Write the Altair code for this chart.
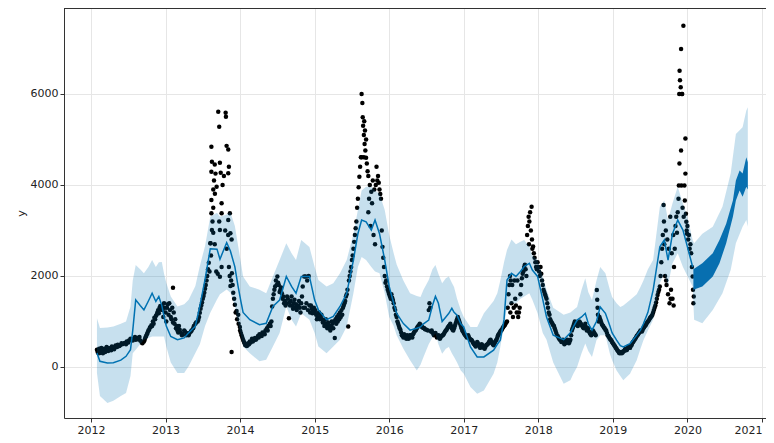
import altair as alt
import pandas as pd

# ---------------- data ----------------
# observed points (decimal year, value)
obs_2012 = [(2012.08,380),(2012.09,330),(2012.10,300),(2012.11,400),(2012.12,310),(2012.13,360),(2012.14,420),(2012.15,340),
    (2012.16,300),(2012.18,400),(2012.19,330),(2012.20,360),(2012.21,440),(2012.22,420),(2012.23,350),(2012.24,380),
    (2012.26,420),(2012.27,370),(2012.28,450),(2012.30,430),(2012.31,390),(2012.33,470),(2012.35,440),(2012.36,490),
    (2012.38,460),(2012.39,480),(2012.41,520),(2012.42,500),(2012.45,530),(2012.47,500),(2012.48,560),(2012.50,540),
    (2012.51,580),(2012.53,620),(2012.54,600),(2012.56,580),(2012.57,620),(2012.59,660),(2012.60,600),(2012.62,640),
    (2012.63,610),(2012.65,660),(2012.66,580),(2012.68,540),(2012.69,520),(2012.71,560),(2012.72,600),(2012.73,650),
    (2012.74,680),(2012.75,720),(2012.76,760),(2012.77,800),(2012.78,820),(2012.79,870),(2012.80,880),(2012.81,920),
    (2012.82,900),(2012.83,1000),(2012.84,950),(2012.85,1080),(2012.86,1050),(2012.87,1120),(2012.88,1150),(2012.89,1200),
    (2012.90,1250),(2012.91,1180),(2012.92,1300),(2012.93,1340),(2012.94,1260),(2012.95,1340),(2012.96,1250),(2012.97,1100),
    (2012.98,1400),(2012.99,1300)]
obs_2013 = [(2013.00,1200),(2013.01,1000),(2013.02,1300),(2013.03,1380),(2013.04,1150),(2013.05,1400),(2013.06,1250),
    (2013.07,1100),(2013.08,1050),(2013.09,1300),(2013.10,1740),(2013.10,980),(2013.11,1200),(2013.12,950),(2013.13,1050),
    (2013.14,850),(2013.15,900),(2013.16,800),(2013.17,760),(2013.18,900),(2013.19,820),(2013.20,760),(2013.22,700),
    (2013.23,720),(2013.25,800),(2013.26,780),(2013.28,700),(2013.29,740),(2013.31,700),(2013.32,740),(2013.34,780),
    (2013.35,800),(2013.37,850),(2013.38,900),(2013.40,950),(2013.41,980),(2013.43,1000),(2013.44,1040),(2013.45,1100),
    (2013.46,1190),(2013.47,1280),(2013.48,1350),(2013.49,1420),(2013.50,1500),(2013.51,1560),(2013.52,1630),(2013.53,1720),
    (2013.54,1800),(2013.55,1900),(2013.56,2000),(2013.57,2150),(2013.58,2290),(2013.59,2100),(2013.60,2720),(2013.61,2450),
    (2013.604,2720),(2013.622,3010),(2013.615,3380),(2013.615,3670),(2013.615,4290),(2013.622,4510),(2013.615,4840),
    (2013.63,3200),(2013.64,3500),(2013.64,3900),(2013.65,4100),(2013.662,3810),(2013.66,4450),(2013.685,3960),
    (2013.67,4250),(2013.64,2950),(2013.66,2700),(2013.68,2100),(2013.707,5610),(2013.72,5280),(2013.729,4490),
    (2013.74,4270),(2013.765,4000),(2013.783,4200),(2013.752,3600),(2013.752,3380),(2013.729,1985),(2013.752,2200),
    (2013.729,3010),(2013.70,2050),(2013.72,3200),(2013.806,5590),(2013.81,5500),(2013.819,4860),(2013.841,4780),
    (2013.85,4400),(2013.841,4260),(2013.863,3380),(2013.841,3230),(2013.87,2940),(2013.886,2800),(2013.85,2200),
    (2013.87,1780),(2013.89,2060),(2013.908,1630),(2013.886,330),(2013.80,3000),(2013.82,2600),(2013.84,2900),
    (2013.86,2000),(2013.88,1900),(2013.90,1800),(2013.92,1500),(2013.93,1370),(2013.94,1200),(2013.953,1230),
    (2013.96,1050),(2013.975,1150),(2013.98,950),(2013.997,880)]
obs_2014 = [(2014.00,800),(2014.01,750),(2014.02,700),(2014.03,650),(2014.04,600),(2014.05,560),(2014.06,520),(2014.07,480),
    (2014.08,500),(2014.09,460),(2014.10,480),(2014.11,520),(2014.12,500),(2014.13,560),(2014.14,540),(2014.16,620),
    (2014.17,560),(2014.18,580),(2014.20,640),(2014.21,600),(2014.22,620),(2014.24,680),(2014.25,650),(2014.26,720),
    (2014.28,700),(2014.29,680),(2014.30,760),(2014.32,740),(2014.33,720),(2014.34,800),(2014.36,850),(2014.37,800),
    (2014.38,900),(2014.40,950),(2014.41,900),(2014.42,1000),(2014.43,1330),(2014.44,1500),(2014.45,1600),(2014.46,1700),
    (2014.47,1770),(2014.48,1900),(2014.49,1800),(2014.50,1990),(2014.51,1850),(2014.52,1800),(2014.53,1650),(2014.54,1700),
    (2014.55,1750),(2014.56,1620),(2014.57,1500),(2014.58,1550),(2014.59,1400),(2014.60,1450),(2014.61,1350),(2014.62,1400),
    (2014.63,1550),(2014.64,1500),(2014.655,1070),(2014.66,1420),(2014.67,1350),(2014.68,1450),(2014.69,1550),(2014.70,1350),
    (2014.71,1280),(2014.72,1400),(2014.73,1480),(2014.74,1300),(2014.75,1380),(2014.76,1250),(2014.77,1320),(2014.78,1350),
    (2014.79,1450),(2014.80,1300),(2014.81,1200),(2014.82,1400),(2014.83,1550),(2014.84,1770),(2014.85,1300),(2014.86,1990),
    (2014.87,1300),(2014.88,1990),(2014.89,1400),(2014.90,1900),(2014.91,1250),(2014.92,2000),(2014.93,1350),(2014.94,1200),
    (2014.95,1350),(2014.96,1280),(2014.97,1180),(2014.98,1250),(2014.99,1300)]
obs_2015 = [(2015.00,1200),(2015.01,1250),(2015.02,1150),(2015.03,1050),(2015.04,1100),(2015.05,1180),(2015.06,1200),
    (2015.07,1050),(2015.08,1100),(2015.09,1150),(2015.10,1050),(2015.11,980),(2015.12,1000),(2015.13,900),(2015.14,950),
    (2015.15,1050),(2015.16,900),(2015.17,850),(2015.18,980),(2015.19,920),(2015.20,850),(2015.21,800),(2015.22,900),
    (2015.23,1000),(2015.24,950),(2015.25,850),(2015.26,1000),(2015.27,635),(2015.28,1050),(2015.29,950),(2015.30,1100),
    (2015.31,1000),(2015.32,1150),(2015.33,1050),(2015.34,1200),(2015.35,1100),(2015.36,1250),(2015.37,1150),(2015.38,1300),
    (2015.39,1350),(2015.40,1400),(2015.41,1450),(2015.42,1550),(2015.43,1600),(2015.44,1700),(2015.45,890),(2015.46,1900),
    (2015.47,2000),(2015.48,2100),(2015.49,2200),(2015.50,2350),(2015.51,2450),(2015.52,2600),(2015.53,2750),(2015.54,2900),
    (2015.55,3050),(2015.56,3200),(2015.57,3500),(2015.58,3700),(2015.59,3950),(2015.60,4180),(2015.61,4400),(2015.62,4610),
    (2015.63,6000),(2015.64,5800),(2015.645,5490),(2015.65,5300),(2015.66,5100),(2015.665,5400),(2015.67,4900),(2015.68,4760),
    (2015.63,4610),(2015.66,4610),(2015.675,5200),(2015.69,5000),(2015.69,4600),(2015.70,4470),(2015.71,4300),(2015.72,4200),
    (2015.73,3700),(2015.74,4000),(2015.75,3100),(2015.76,3850),(2015.77,3600),(2015.78,4100),(2015.79,2900),(2015.80,3900),
    (2015.81,2700),(2015.72,3400),(2015.82,4000),(2015.83,4400),(2015.84,4100),(2015.85,4200),(2015.86,4050),(2015.87,3900),
    (2015.88,3800),(2015.89,3700),(2015.90,3000),(2015.91,2640),(2015.92,2400),(2015.93,2200),(2015.94,2000),(2015.95,1850),
    (2015.96,1900),(2015.97,1770),(2015.98,1700),(2015.99,1650)]
obs_2016 = [(2016.00,1600),(2016.01,1550),(2016.02,1500),(2016.03,1600),(2016.04,1520),(2016.05,1470),(2016.06,1400),
    (2016.07,1300),(2016.08,1250),(2016.09,1150),(2016.10,1100),(2016.11,1000),(2016.12,950),(2016.13,900),(2016.14,850),
    (2016.15,820),(2016.16,760),(2016.17,700),(2016.18,680),(2016.19,650),(2016.20,720),(2016.21,700),(2016.22,650),
    (2016.23,620),(2016.24,700),(2016.25,680),(2016.26,620),(2016.27,640),(2016.28,700),(2016.29,700),(2016.30,660),
    (2016.31,650),(2016.32,720),(2016.33,750),(2016.34,780),(2016.35,800),(2016.36,820),(2016.37,850),(2016.38,880),
    (2016.39,900),(2016.40,920),(2016.41,950),(2016.42,930),(2016.43,900),(2016.44,880),(2016.45,870),(2016.46,860),
    (2016.47,850),(2016.48,830),(2016.50,820),(2016.52,800),(2016.53,1250),(2016.54,1400),(2016.55,1300),(2016.56,780),
    (2016.57,800),(2016.58,760),(2016.59,740),(2016.60,700),(2016.61,720),(2016.62,750),(2016.63,700),(2016.64,650),
    (2016.65,680),(2016.66,700),(2016.67,660),(2016.68,620),(2016.69,650),(2016.70,680),(2016.71,690),(2016.72,700),
    (2016.73,720),(2016.74,750),(2016.75,780),(2016.76,800),(2016.77,820),(2016.78,850),(2016.79,880),(2016.80,900),
    (2016.81,920),(2016.82,950),(2016.83,900),(2016.84,850),(2016.85,820),(2016.86,800),(2016.87,850),(2016.88,900),
    (2016.89,950),(2016.90,1000),(2016.91,1050),(2016.92,1100),(2016.93,1050),(2016.94,1000),(2016.95,950),(2016.96,900),
    (2016.97,850),(2016.98,800),(2016.99,780)]
obs_2017 = [(2017.00,750),(2017.01,720),(2017.02,700),(2017.03,680),(2017.04,650),(2017.05,680),(2017.06,700),(2017.07,650),
    (2017.08,620),(2017.09,600),(2017.10,600),(2017.11,580),(2017.12,550),(2017.13,520),(2017.14,500),(2017.15,480),
    (2017.16,450),(2017.17,500),(2017.18,550),(2017.19,520),(2017.20,480),(2017.21,450),(2017.22,420),(2017.23,460),
    (2017.24,500),(2017.25,480),(2017.26,450),(2017.27,420),(2017.28,400),(2017.29,440),(2017.30,480),(2017.31,490),
    (2017.32,500),(2017.33,520),(2017.34,550),(2017.35,580),(2017.36,600),(2017.37,560),(2017.38,520),(2017.39,500),
    (2017.40,480),(2017.41,520),(2017.42,550),(2017.43,580),(2017.44,600),(2017.45,650),(2017.46,700),(2017.47,720),
    (2017.48,750),(2017.49,780),(2017.50,800),(2017.51,820),(2017.52,850),(2017.53,880),(2017.54,900),(2017.55,920),
    (2017.56,950),(2017.57,980),(2017.58,1000),(2017.59,1300),(2017.60,1600),(2017.61,1800),(2017.62,2000),(2017.625,1200),
    (2017.63,1900),(2017.64,1400),(2017.65,1800),(2017.66,1100),(2017.67,1300),(2017.68,1900),(2017.69,1500),(2017.70,1350),
    (2017.71,1200),(2017.72,1900),(2017.73,1100),(2017.74,1200),(2017.75,1300),(2017.76,1600),(2017.77,1800),(2017.78,1950),
    (2017.79,2050),(2017.80,2100),(2017.81,2200),(2017.82,2250),(2017.83,2150),(2017.84,2000),(2017.85,2900),(2017.86,3100),
    (2017.87,3300),(2017.875,2700),(2017.88,3200),(2017.89,3400),(2017.90,3000),(2017.91,3520),(2017.915,2800),(2017.92,2600),
    (2017.93,2650),(2017.94,2500),(2017.95,2400),(2017.96,2300),(2017.97,2200),(2017.98,2150),(2017.99,2300)]
obs_2018 = [(2018.00,2200),(2018.01,2100),(2018.02,2000),(2018.03,2200),(2018.04,2050),(2018.05,1900),(2018.06,1800),
    (2018.07,1700),(2018.08,1650),(2018.09,1600),(2018.10,1550),(2018.11,1500),(2018.12,1400),(2018.13,1300),(2018.14,1200),
    (2018.15,1150),(2018.16,1050),(2018.17,1000),(2018.18,980),(2018.19,950),(2018.20,920),(2018.21,900),(2018.22,850),
    (2018.23,800),(2018.24,750),(2018.25,700),(2018.26,680),(2018.27,650),(2018.28,620),(2018.29,600),(2018.30,580),
    (2018.31,550),(2018.32,570),(2018.33,600),(2018.34,550),(2018.35,500),(2018.36,520),(2018.37,550),(2018.38,580),
    (2018.39,600),(2018.40,560),(2018.41,520),(2018.42,560),(2018.43,600),(2018.44,700),(2018.45,800),(2018.46,850),
    (2018.47,900),(2018.48,950),(2018.49,1000),(2018.50,980),(2018.51,950),(2018.52,920),(2018.53,900),(2018.54,950),
    (2018.55,1000),(2018.56,980),(2018.57,950),(2018.58,920),(2018.59,900),(2018.60,870),(2018.61,850),(2018.62,900),
    (2018.63,950),(2018.64,880),(2018.65,800),(2018.66,820),(2018.67,850),(2018.68,780),(2018.69,750),(2018.70,720),
    (2018.71,700),(2018.72,750),(2018.73,800),(2018.74,780),(2018.75,750),(2018.76,720),(2018.77,700),(2018.785,1690),
    (2018.79,1480),(2018.795,1300),(2018.80,1150),(2018.81,1000),(2018.82,1100),(2018.83,1050),(2018.84,1000),(2018.85,950),
    (2018.86,920),(2018.87,900),(2018.88,870),(2018.89,850),(2018.90,820),(2018.91,800),(2018.92,750),(2018.93,700),
    (2018.94,680),(2018.95,650),(2018.96,620),(2018.97,600),(2018.98,580),(2018.99,550)]
obs_2019 = [(2019.00,520),(2019.01,500),(2019.02,470),(2019.03,450),(2019.04,420),(2019.05,400),(2019.06,370),(2019.07,350),
    (2019.08,320),(2019.09,300),(2019.10,310),(2019.11,330),(2019.12,300),(2019.13,320),(2019.14,340),(2019.15,350),
    (2019.16,380),(2019.17,400),(2019.18,370),(2019.19,380),(2019.20,420),(2019.21,450),(2019.22,430),(2019.23,420),
    (2019.24,460),(2019.25,480),(2019.26,520),(2019.27,550),(2019.28,570),(2019.29,600),(2019.30,620),(2019.31,650),
    (2019.32,680),(2019.33,700),(2019.34,720),(2019.35,750),(2019.36,770),(2019.37,800),(2019.38,790),(2019.39,780),
    (2019.40,820),(2019.41,850),(2019.42,880),(2019.43,900),(2019.44,920),(2019.45,950),(2019.46,980),(2019.47,1000),
    (2019.48,1020),(2019.49,1050),(2019.50,1080),(2019.51,1100),(2019.52,1120),(2019.53,1150),(2019.54,1200),(2019.55,1250),
    (2019.56,1300),(2019.57,1350),(2019.58,1420),(2019.59,1500),(2019.60,1580),(2019.61,1650),(2019.62,1700),(2019.63,1770),
    (2019.64,2000),(2019.65,2300),(2019.66,2600),(2019.67,2900),(2019.68,3560),(2019.685,3200),(2019.69,2700),(2019.70,2000),
    (2019.71,3000),(2019.715,1900),(2019.72,1800),(2019.73,2800),(2019.74,1600),(2019.75,2600),(2019.76,1400),(2019.77,3300),
    (2019.775,1500),(2019.78,1700),(2019.79,2500),(2019.80,1500),(2019.81,2900),(2019.815,1350),(2019.82,2200),(2019.83,2600),
    (2019.84,3100),(2019.85,3300),(2019.86,2950),(2019.87,3400),(2019.88,3700),(2019.885,3990),(2019.89,6000),(2019.893,4470),
    (2019.895,6510),(2019.90,6300),(2019.91,6150),(2019.915,6990),(2019.915,4760),(2019.92,3990),(2019.925,6000),(2019.93,6000),
    (2019.935,3500),(2019.946,7500),(2019.95,3300),(2019.96,3990),(2019.965,3660),(2019.973,5020),(2019.973,4250),(2019.98,3370),
    (2019.985,3190),(2019.99,3000),(2019.995,2930)]
obs_2020 = [(2020.00,3100),(2020.01,2800),(2020.02,2900),(2020.03,2600),(2020.04,2700),(2020.05,2500),(2020.06,2200),
    (2020.07,1990),(2020.075,1700),(2020.08,1400),(2020.085,1550)]

# fitted model over the history: (decimal year, yhat, yhat_lower, yhat_upper)
fit = [(2012.08,310,-130,1070),(2012.12,125,-640,855),(2012.22,88,-790,870),(2012.30,95,-740,890),(2012.40,150,-640,950),
    (2012.47,235,-570,1000),(2012.53,380,-200,1330),(2012.56,800,300,1900),(2012.60,1475,380,2240),(2012.66,1350,500,2150),
    (2012.71,1255,600,2060),(2012.77,1450,640,2200),(2012.82,1620,670,2350),(2012.87,1440,670,2200),(2012.91,1550,670,2300),
    (2012.95,1350,670,2310),(2012.98,1110,670,2050),(2013.01,900,450,1850),(2013.07,670,100,1550),(2013.16,600,-130,1330),
    (2013.25,640,-130,1380),(2013.31,750,15,1480),(2013.40,897,310,1780),(2013.46,1340,500,2220),(2013.53,1925,900,2660),
    (2013.60,2600,1190,3300),(2013.69,2590,1485,3390),(2013.73,2370,1600,3300),(2013.82,2735,1705,3350),(2013.87,2550,1630,3400),
    (2013.93,2200,1340,3100),(2013.97,1800,1000,2700),(2014.01,1450,700,2300),(2014.04,1200,450,1990),(2014.13,1040,300,1770),
    (2014.26,930,125,1700),(2014.35,960,160,1620),(2014.44,1330,450,1990),(2014.53,1470,745,2350),(2014.62,1990,1330,2720),
    (2014.69,1770,1040,2500),(2014.75,1620,890,2350),(2014.82,1990,1180,2790),(2014.93,1990,1040,2640),(2015.00,1470,745,2200),
    (2015.05,1255,450,1910),(2015.16,1040,300,1770),(2015.25,1110,450,1840),(2015.34,1330,600,2060),(2015.43,1620,890,2350),
    (2015.52,2350,1620,2930),(2015.58,2930,2200,3450),(2015.63,3230,2420,3880),(2015.69,3190,2350,3960),(2015.76,3010,2200,3960),
    (2015.81,3230,2100,3880),(2015.87,2930,2060,3810),(2015.94,2350,1620,3450),(2016.00,1770,1100,2900),(2016.06,1400,900,2500),
    (2016.10,1180,700,2250),(2016.19,955,400,1900),(2016.28,810,150,1620),(2016.37,850,-75,1560),(2016.42,880,50,1540),
    (2016.46,950,220,1700),(2016.53,1030,500,1910),(2016.58,1350,650,2150),(2016.62,1550,735,2240),(2016.66,1400,500,2050),
    (2016.71,1000,290,1840),(2016.76,1100,400,1950),(2016.80,1180,440,1990),(2016.84,1290,300,1850),(2016.87,1200,220,1760),
    (2016.91,1140,100,1500),(2016.96,950,-75,1250),(2017.00,880,-150,1100),(2017.09,440,-440,880),(2017.18,220,-590,880),
    (2017.27,220,-515,1180),(2017.40,370,-150,1450),(2017.45,500,100,1620),(2017.49,590,440,1900),(2017.54,1040,900,2300),
    (2017.58,1910,1320,2570),(2017.64,2060,1400,2800),(2017.70,1990,1400,2700),(2017.76,2100,1500,2750),(2017.81,2210,1550,2790),
    (2017.88,2280,1620,2650),(2017.92,2130,1480,2450),(2017.99,1990,1180,2350),(2018.06,1480,745,1990),(2018.11,1100,600,1700),
    (2018.20,700,100,1300),(2018.34,600,-370,1150),(2018.43,750,-290,1200),(2018.47,880,-150,1250),(2018.52,1030,0,1320),
    (2018.58,1100,300,1700),(2018.63,1180,515,1950),(2018.67,955,350,1650),(2018.72,810,220,1470),(2018.78,1000,590,1900),
    (2018.83,1320,700,2200),(2018.90,1180,700,2060),(2018.96,900,290,1700),(2018.99,750,150,1540),(2019.05,590,-75,1400),
    (2019.10,470,-200,1320),(2019.14,440,-290,1350),(2019.23,515,-150,1470),(2019.32,700,150,1600),(2019.37,810,400,1760),
    (2019.41,950,590,1900),(2019.47,1200,800,2150),(2019.54,1690,1040,2350),(2019.63,2640,1840,3520),(2019.69,2790,2060,3660),
    (2019.74,2350,1800,3230),(2019.80,2930,2280,3600),(2019.87,3230,2500,3960),(2019.94,3010,2200,3590),(2020.00,2640,2000,3300),
    (2020.07,2200,1770,2790)]

# forecast uncertainty band: (decimal year, yhat_lower, yhat_upper)
fc_band = [(2020.09,1040,2720),(2020.20,960,2930),(2020.34,1255,3080),(2020.47,1620,3520),(2020.58,2130,4250),
    (2020.65,2720,5120),(2020.74,3080,5270),(2020.79,3230,5640),(2020.81,3080,5710)]

# forecast yhat envelope (dense weekly wiggle, drawn as a solid dark band): (decimal year, low, high)
fc_line = [(2020.08,1700,2150),(2020.20,1770,2280),(2020.34,1990,2500),(2020.43,2280,2790),(2020.52,2720,3150),
    (2020.61,3300,3660),(2020.65,3660,4100),(2020.70,3880,4320),(2020.74,3740,4250),(2020.79,3960,4610),(2020.81,3900,4500)]

year_ticks = [2012, 2013, 2014, 2015, 2016, 2017, 2018, 2019, 2020, 2021]
y_ticks = [0, 2000, 4000, 6000]

# ---------------- frames ----------------
obs = obs_2012 + obs_2013 + obs_2014 + obs_2015 + obs_2016 + obs_2017 + obs_2018 + obs_2019 + obs_2020
df_obs = pd.DataFrame(obs, columns=["t", "y"])
df_fit = pd.DataFrame(fit, columns=["t", "yhat", "lo", "hi"])
df_band = pd.concat([df_fit[["t", "lo", "hi"]], pd.DataFrame(fc_band, columns=["t", "lo", "hi"])], ignore_index=True)
df_fc = pd.DataFrame(fc_line, columns=["t", "lo", "hi"])

W, H = 702, 410
xs = alt.Scale(domain=[2011.638, 2021.054], nice=False, zero=False)
ys = alt.Scale(domain=[-1121, 7890], nice=False, zero=False)
xax = alt.Axis(values=year_ticks, format="d", title=None, grid=True, labelFlush=6)
yax = alt.Axis(values=y_ticks, format="d", title="y", grid=True, titlePadding=4)

X = alt.X("t:Q", scale=xs, axis=xax)

points = alt.Chart(df_obs).mark_circle(color="black", size=20, opacity=1).encode(
    x=X, y=alt.Y("y:Q", scale=ys, axis=yax))
line = alt.Chart(df_fit).mark_line(color="#0072B2", strokeWidth=1.5).encode(
    x=X, y=alt.Y("yhat:Q", scale=ys, axis=yax))
fc_dark = alt.Chart(df_fc).mark_area(color="#0a6fb0", opacity=1).encode(
    x=X, y=alt.Y("lo:Q", scale=ys, axis=yax), y2="hi:Q")
band = alt.Chart(df_band).mark_area(color="#0072B2", opacity=0.22).encode(
    x=X, y=alt.Y("lo:Q", scale=ys, axis=yax), y2="hi:Q")
top_spine = alt.Chart(df_obs).mark_rule(color="#333333", strokeWidth=1).encode(
    x=alt.value(0), x2=alt.value(W), y=alt.value(0))

chart = alt.layer(points, line, fc_dark, band, top_spine).properties(
    width=W, height=H,
    autosize=alt.AutoSizeParams(type="none"),
    padding={"left": 56, "top": 0, "right": 0, "bottom": 17},
).configure_view(stroke=None).configure_axis(
    domainColor="#333333", tickColor="#333333", tickSize=4, labelPadding=2,
    labelFont="DejaVu Sans", labelFontSize=11, labelColor="#222222",
    titleFont="DejaVu Sans", titleFontSize=11, titleFontWeight="normal", titleColor="#222222",
    gridColor="#e6e6e6", gridWidth=1,
)

chart.save("out.html", embed_options={"renderer": "svg", "actions": False})
